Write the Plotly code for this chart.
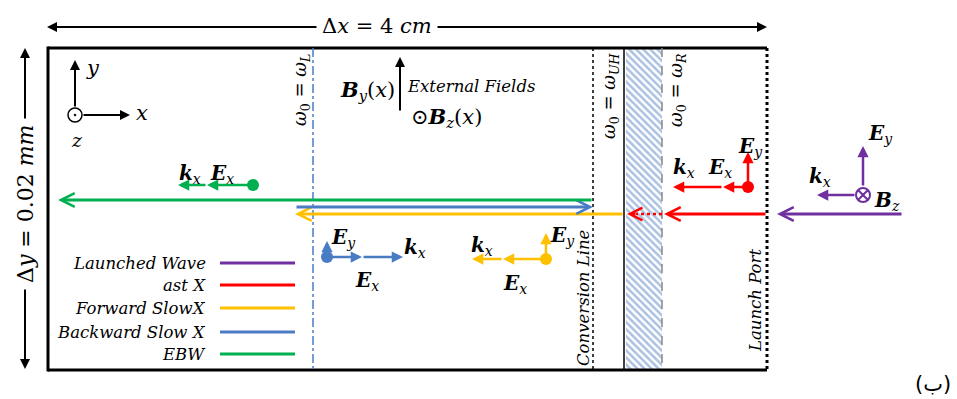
import plotly.graph_objects as go

W, H = 957, 399

# ---- wave families (legend) ----
wave_names = ["Launched Wave", "ast X", "Forward SlowX", "Backward Slow X", "EBW"]
wave_colors = ["#7030A0", "#FF0000", "#FFC000", "#4A7CC4", "#00B050"]
legend_y = [263, 285, 308, 332, 354]

# ---- characteristic positions along x (diagram units) ----
box_x = [48, 767]
box_y = [48, 370]
x_omega_L = 313
x_conversion = 593
x_omega_UH = 624
x_omega_R = 662

# ---- rays: wave index, start x, end x (head), y ----
ray_wave = [0, 1, 2, 3, 4]
ray_x0 = [903, 767, 624, 295, 593]
ray_x1 = [777, 664, 295, 593, 58]
ray_y = [214, 214, 214, 207, 200]

# ---- polarisation icons: wave index, dot, k-arrow end, mid head, E_y top ----
pol_wave = [4, 3, 2, 1, 0]
pol_x = [253, 327, 546, 748, 863]
pol_y = [185, 257, 259, 187, 195]
pol_k_end = [178, 403, 472, 673, 817]
pol_mid = [207, 362, 503, 723, None]
pol_ey_top = [None, 241, 233, 152, 146]

MATH = "DejaVu Serif"
ITAL = "DejaVu Serif"

fig = go.Figure()

# hatched region between omega_UH and omega_R
fig.add_trace(go.Scatter(
    x=[x_omega_UH + 2, x_omega_R, x_omega_R, x_omega_UH + 2, x_omega_UH + 2],
    y=[box_y[0], box_y[0], box_y[1], box_y[1], box_y[0]],
    mode="lines", line=dict(width=0), fill="toself", fillcolor="white",
    fillpattern=dict(shape="\\", fgcolor="#5583C4", bgcolor="white", size=5, solidity=0.5),
    hoverinfo="skip", showlegend=False))

shapes = []
ann = []


def line(x0, y0, x1, y1, color="black", width=2, dash="solid"):
    shapes.append(dict(type="line", x0=x0, y0=y0, x1=x1, y1=y1, xref="x", yref="y",
                       line=dict(color=color, width=width, dash=dash)))


def arrow(x0, y0, x1, y1, color="black", width=2, head=2, size=1.0):
    ann.append(dict(x=x1, y=y1, ax=x0, ay=y0, xref="x", yref="y", axref="x", ayref="y",
                    text="", showarrow=True, arrowhead=head, arrowsize=size,
                    arrowwidth=width, arrowcolor=color, standoff=0, startstandoff=0))


def text(x, y, s, size=16, family=MATH, color="black", angle=0, xanchor="center",
         yanchor="middle"):
    ann.append(dict(x=x, y=y, xref="x", yref="y", text=s, showarrow=False,
                    textangle=angle, xanchor=xanchor, yanchor=yanchor,
                    font=dict(family=family, size=size, color=color)))


# ---- box ----
line(box_x[0], box_y[0], box_x[1], box_y[0], width=3)
line(box_x[0], box_y[1], box_x[1], box_y[1], width=3)
line(box_x[0], box_y[0] - 1.5, box_x[0], box_y[1] + 1.5, width=3)
line(box_x[1], box_y[0], box_x[1], box_y[1], width=3, dash="dot")

# ---- vertical characteristic lines ----
line(x_omega_L, box_y[0], x_omega_L, box_y[1], color="#4A7CC4", width=1.5, dash="dashdot")
line(x_conversion, box_y[0], x_conversion, box_y[1], width=1.5, dash="dot")
line(x_omega_UH, box_y[0], x_omega_UH, box_y[1], width=1.5)
line(x_omega_R, box_y[0], x_omega_R, box_y[1], color="#888888", width=1.5, dash="dash")

# ---- dimension arrows ----
arrow(318, 27, 47, 27, width=2, head=2, size=1.0)
arrow(436, 27, 767, 27, width=2, head=2, size=1.0)
text(377, 26, "Δ<i>x</i> = 4 <i>cm</i>", size=21)
arrow(25, 120, 25, 48, width=2, head=2, size=1.0)
arrow(25, 288, 25, 369, width=2, head=2, size=1.0)
text(25, 204, "Δ<i>y</i> = 0.02 <i>mm</i>", size=22, angle=-90)

# ---- coordinate icon ----
fig.add_trace(go.Scatter(x=[75], y=[115], mode="markers",
                         marker=dict(symbol="circle-open-dot", size=14, color="black",
                                     line=dict(width=1.5, color="black")),
                         hoverinfo="skip", showlegend=False))
arrow(75, 108, 75, 60, width=2, head=2, size=1.0)
arrow(82, 115, 130, 115, width=2, head=2, size=1.0)
text(93, 68, "<i>y</i>", size=21)
text(142, 113, "<i>x</i>", size=21)
text(77, 140, "<i>z</i>", size=19)

# ---- external fields ----
arrow(400, 112, 400, 57, width=2, head=2, size=1.0)
text(397, 90, "<b><i>B</i></b><sub><i>y</i></sub>(<i>x</i>)", size=21, xanchor="right")
text(405, 86, "<i>External Fields</i>", size=16.5, family=ITAL, xanchor="left")
text(409, 117, "⊙<b><i>B</i></b><sub><i>z</i></sub>(<i>x</i>)", size=21, xanchor="left")

# ---- rotated line labels ----
text(301, 90, "<i>ω</i><sub>0</sub> = <i>ω</i><sub><i>L</i></sub>", size=18, angle=-90)
text(610, 96, "<i>ω</i><sub>0</sub> = <i>ω</i><sub><i>UH</i></sub>", size=18, angle=-90)
text(677, 90, "<i>ω</i><sub>0</sub> = <i>ω</i><sub><i>R</i></sub>", size=18, angle=-90)
text(583, 298, "<i>Conversion Line</i>", size=16.5, family=ITAL, angle=-90)
text(755, 301, "<i>Launch Port</i>", size=16.5, family=ITAL, angle=-90)

# ---- rays ----
for w, x0, x1, y in zip(ray_wave, ray_x0, ray_x1, ray_y):
    arrow(x0, y, x1, y, color=wave_colors[w], width=3, head=5, size=0.9)
# red evanescent (dotted) part through the hatched layer
line(x_omega_R, 214, x_omega_UH + 12, 214, color=wave_colors[1], width=2.5, dash="dot")
arrow(x_omega_UH + 13, 214, x_omega_UH + 3, 214, color=wave_colors[1], width=2.5, head=5, size=1.0)

# ---- polarisation icons ----
for w, px, py, kx, mid, eyt in zip(pol_wave, pol_x, pol_y, pol_k_end, pol_mid, pol_ey_top):
    c = wave_colors[w]
    if mid is not None:
        arrow(px, py, mid, py, color=c, width=2.5, head=2, size=0.9)
        arrow(mid, py, kx, py, color=c, width=2.5, head=2, size=0.9)
    else:
        arrow(px - 7, py, kx, py, color=c, width=2.5, head=2, size=0.9)
    if eyt is not None:
        arrow(px, py - (8 if w == 0 else 0), px, eyt, color=c, width=2.5, head=2, size=0.9)

pol_dot_x = [pol_x[i] for i in range(4)]
pol_dot_y = [pol_y[i] for i in range(4)]
pol_dot_c = [wave_colors[pol_wave[i]] for i in range(4)]
fig.add_trace(go.Scatter(x=pol_dot_x, y=pol_dot_y, mode="markers",
                         marker=dict(symbol="circle", size=12, color=pol_dot_c),
                         hoverinfo="skip", showlegend=False))
fig.add_trace(go.Scatter(x=[pol_x[4]], y=[pol_y[4]], mode="markers",
                         marker=dict(symbol="circle-x-open", size=14, color=wave_colors[0],
                                     line=dict(width=2, color=wave_colors[0])),
                         hoverinfo="skip", showlegend=False))

KX = "<b><i>k</i></b><sub><i>x</i></sub>"
EX = "<b><i>E</i></b><sub><i>x</i></sub>"
EY = "<b><i>E</i></b><sub><i>y</i></sub>"
BZ = "<b><i>B</i></b><sub><i>z</i></sub>"
LS = 20
# green
text(190, 174, KX, size=LS); text(222, 174, EX, size=LS)
# blue
text(343, 238, EY, size=LS); text(415, 248, KX, size=LS); text(367, 281, EX, size=LS)
# yellow
text(482, 246, KX, size=LS); text(562, 236, EY, size=LS); text(515, 284, EX, size=LS)
# red
text(684, 168, KX, size=LS); text(720, 168, EX, size=LS); text(750, 147, EY, size=LS)
# purple
text(820, 177, KX, size=LS); text(880, 134, EY, size=LS); text(887, 201, BZ, size=LS)

# ---- legend ----
for name, c, y in zip(wave_names, wave_colors, legend_y):
    text(208, y, "<i>" + name + "</i>", size=16.5, family=ITAL, xanchor="right")
    line(220, y, 295, y, color=c, width=3)

text(933, 384, "(ب)", size=21, family="DejaVu Sans")

fig.update_layout(
    width=W, height=H, margin=dict(l=0, r=0, t=0, b=0),
    paper_bgcolor="white", plot_bgcolor="white",
    xaxis=dict(range=[0, W], visible=False, fixedrange=True),
    yaxis=dict(range=[H, 0], visible=False, fixedrange=True),
    shapes=shapes, annotations=ann, showlegend=False,
)

fig.write_html("out.html", config={"displayModeBar": False},
               post_script="document.body.style.margin='0';document.body.style.overflow='hidden';")
